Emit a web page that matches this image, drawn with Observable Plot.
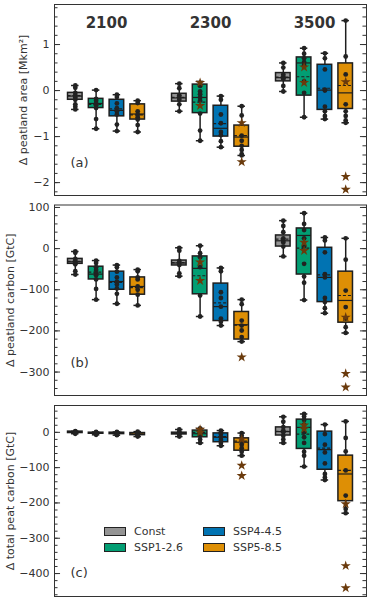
<!DOCTYPE html>
<html><head><meta charset="utf-8">
<script src="https://cdn.jsdelivr.net/npm/d3@7"></script>
<script src="https://cdn.jsdelivr.net/npm/@observablehq/plot@0.6"></script>
<style>
body{margin:0;background:#fff;font-family:"DejaVu Sans",sans-serif;}
#wrap{position:relative;width:370px;height:600px;overflow:hidden;}
#wrap svg{display:block;}
.lg{position:absolute;display:flex;align-items:center;font-size:11px;color:#333;white-space:nowrap;}
.lg span.sw{display:inline-block;width:20px;height:7px;border:1.3px solid #222;margin-right:8px;}
</style></head><body><div id="wrap"></div>
<script>
const years = ["2100", "2300", "3500"];
const scenarios = ["Const", "SSP1-2.6", "SSP4-4.5", "SSP5-8.5"];
const colors = ["#949494", "#029e73", "#0173b2", "#de8f05"];

// order: 2100 (Const, SSP1, SSP4, SSP5), 2300 (...), 3500 (...)
// (a) peatland area [Mkm2]
const areaQ1 = [-0.2, -0.38, -0.56, -0.63, -0.24, -0.49, -1.0, -1.22, 0.2, -0.11, -0.42, -0.4];
const areaQ3 = [-0.05, -0.18, -0.2, -0.3, -0.07, 0.13, -0.33, -0.76, 0.38, 0.72, 0.56, 0.59];
const areaMed = [-0.12, -0.28, -0.43, -0.51, -0.16, -0.15, -0.82, -1.01, 0.28, 0.6, 0.01, -0.05];
const areaMean = [-0.11, -0.3, -0.4, -0.53, -0.15, -0.25, -0.72, -0.98, 0.29, 0.3, 0.05, 0.11];
const areaLo = [-0.41, -0.83, -0.88, -0.9, -0.45, -1.09, -1.23, -1.41, -0.02, -0.58, -0.62, -0.7];
const areaHi = [0.11, 0.01, -0.09, -0.22, 0.15, 0.2, -0.12, -0.34, 0.6, 0.92, 0.81, 1.52];
const areaDots = [
  [0.11, 0.06, -0.05, -0.1, -0.15, -0.2, -0.3, -0.35, -0.41],
  [0.01, -0.18, -0.22, -0.28, -0.32, -0.38, -0.62, -0.83],
  [-0.09, -0.14, -0.28, -0.38, -0.45, -0.52, -0.74, -0.88],
  [-0.22, -0.27, -0.45, -0.52, -0.58, -0.63, -0.75, -0.9],
  [0.15, 0.05, -0.1, -0.15, -0.2, -0.3, -0.45],
  [0.1, -0.02, -0.08, -0.15, -0.22, -0.5, -0.87, -1.09],
  [-0.12, -0.2, -0.52, -0.71, -0.9, -0.97, -1.1, -1.23],
  [-0.34, -0.54, -0.98, -1.09, -1.2, -1.29, -1.38, -1.41],
  [0.6, 0.5, 0.35, 0.3, 0.27, 0.25, 0.1, -0.02],
  [0.92, 0.8, 0.7, 0.62, 0.55, 0.2, -0.05, -0.58],
  [0.81, 0.7, 0.46, 0.02, 0.0, -0.35, -0.45, -0.55, -0.62],
  [1.52, 0.74, 0.35, -0.3, -0.45, -0.55, -0.65, -0.7]
];
const areaStars = [[], [], [], [], [], [0.17, -0.33], [], [-0.7, -1.55], [], [0.51, 0.17], [], [0.19, -1.87, -2.15]];

// (b) peatland carbon [GtC]
const carbQ1 = [-37, -75, -100, -112, -41, -111, -176, -221, 5, -63, -130, -180];
const carbQ3 = [-25, -44, -56, -70, -29, -19, -85, -154, 32, 49, 2, -56];
const carbMed = [-32, -62, -80, -92, -35, -48, -141, -185, 19, 32, -70, -126];
const carbMean = [-31, -57, -82, -95, -34, -66, -132, -186, 23, 1, -64, -114];
const carbLo = [-63, -124, -134, -138, -67, -165, -187, -226, -19, -125, -157, -205];
const carbHi = [-7, -29, -40, -51, 2, 7, -47, -124, 68, 86, 27, 25];
const carbDots = [
  [-7, -10, -25, -30, -33, -38, -55, -63],
  [-29, -35, -45, -52, -60, -65, -75, -98, -124],
  [-40, -45, -56, -70, -80, -87, -97, -110, -134],
  [-51, -55, -70, -75, -92, -100, -112, -138],
  [2, -5, -30, -35, -40, -60, -67],
  [7, -11, -21, -45, -114, -165],
  [-47, -55, -106, -120, -141, -170, -178, -187],
  [-124, -135, -175, -187, -199, -215, -226],
  [68, 55, 40, 25, 20, 15, 5, -19],
  [86, 60, 45, 25, 5, -37, -68, -83, -125],
  [27, 20, -9, -62, -70, -120, -130, -145, -157],
  [25, -27, -102, -142, -170, -191, -205]
];
const carbStars = [[], [], [], [], [], [-33, -78], [], [-264], [], [15, -5], [], [-167, -304, -337]];

// (c) total peat carbon [GtC]
const totQ1 = [-2, -4, -5, -8, -6, -14, -28, -52, -9, -47, -106, -195];
const totQ3 = [2, -1, -1, -2, -1, 5, -3, -17, 14, 36, 2, -66];
const totMed = [0, -2, -3, -5, -3, -4, -14, -28, 2, 14, -49, -118];
const totMean = [0, -2, -3, -5, -3, 0, -12, -25, 3, -5, -45, -108];
const totLo = [-4, -7, -8, -12, -12, -30, -38, -66, -30, -97, -135, -229];
const totHi = [3, 1, 1, 2, 8, 11, 5, -2, 44, 52, 22, 31];
const totDots = [
  [3, 1, 0, -1, -2, -4],
  [1, -1, -2, -3, -5, -7],
  [1, -1, -3, -4, -6, -8],
  [2, -2, -4, -6, -9, -12],
  [8, 2, -2, -4, -7, -12],
  [11, 2, -4, -10, -20, -30],
  [5, 0, -5, -14, -22, -30, -38],
  [-2, -10, -28, -35, -45, -55, -66],
  [44, 30, 15, 5, 0, -10, -20, -30],
  [52, 45, 35, 22, 0, -14, -30, -55, -66, -97],
  [22, -5, -35, -57, -88, -118, -128, -135],
  [31, -16, -54, -108, -179, -217, -229]
];
const totStars = [[], [], [], [], [], [8, 0], [], [-20, -94, -123], [], [10, 20], [], [-203, -378, -441]];

const wrap = document.getElementById("wrap");

function panel(o) {
  const rows = o.q1.map((_, k) => ({
    pos: Math.floor(k / 4) * 5 + (k % 4),
    color: colors[k % 4],
    q1: o.q1[k], q3: o.q3[k], med: o.med[k], mean: o.mean[k], lo: o.lo[k], hi: o.hi[k]
  }));
  const dots = rows.flatMap((r, k) => o.dots[k].map(v => ({pos: r.pos, v})));
  const stars = rows.flatMap((r, k) => o.stars[k].map(v => ({pos: r.pos, v})));
  const hw = 0.35, cw = 0.18, maj = 0.29, mnr = 0.17;
  const x0 = -1, x1 = 14;
  const marks = [
    Plot.axisY({ticks: o.major, tickSize: 0, tickPadding: 5, tickFormat: d3.format("d"),
      label: null, fontSize: 11, fill: "#333"}),
    Plot.text([o.label], {frameAnchor: "left", dx: o.labelDx, rotate: -90, text: d => d,
      textAnchor: "middle", lineAnchor: "middle", fontSize: 11, fill: "#333"}),
    Plot.ruleY(o.minor, {x1: x0, x2: x0 + mnr, stroke: "#333"}),
    Plot.ruleY(o.major, {x1: x0, x2: x0 + maj, stroke: "#333"}),
    Plot.ruleY(o.minor, {x1: x1 - mnr, x2: x1, stroke: "#333"}),
    Plot.ruleY(o.major, {x1: x1 - maj, x2: x1, stroke: "#333"}),
    Plot.ruleX(rows, {x: "pos", y1: "lo", y2: "hi", stroke: "#1e1e1e", strokeWidth: 1.5}),
    Plot.ruleY(rows, {y: "lo", x1: d => d.pos - cw, x2: d => d.pos + cw, stroke: "#1e1e1e", strokeWidth: 1.5}),
    Plot.ruleY(rows, {y: "hi", x1: d => d.pos - cw, x2: d => d.pos + cw, stroke: "#1e1e1e", strokeWidth: 1.5}),
    Plot.rect(rows, {x1: d => d.pos - hw, x2: d => d.pos + hw, y1: "q1", y2: "q3", fill: "color", stroke: "#1e1e1e", strokeWidth: 1.5}),
    Plot.ruleY(rows, {y: "med", x1: d => d.pos - hw, x2: d => d.pos + hw, stroke: "#1e1e1e", strokeWidth: 1.2}),
    Plot.ruleY(rows, {y: "mean", x1: d => d.pos - hw, x2: d => d.pos + hw, stroke: "#1e1e1e", strokeWidth: 1.2, strokeDasharray: "3,2"}),
    Plot.dot(dots, {x: "pos", y: "v", r: 2.4, fill: "#222", stroke: "none"}),
    Plot.dot(stars, {x: "pos", y: "v", r: 3.2, symbol: "star", fill: "#6a3a0c", stroke: "none"}),
    Plot.frame({stroke: "#333", strokeWidth: 1}),
    Plot.text([o.tag], {frameAnchor: "bottom-left", dx: 16, dy: o.tagDy, text: d => d,
      textAnchor: "start", lineAnchor: "middle", fontSize: 13, fill: "#333"})
  ];
  if (o.titles) {
    marks.push(Plot.text(years, {x: (d, i) => i * 5 + 1.5, frameAnchor: "top", dy: 19, text: d => d,
      lineAnchor: "middle", fontWeight: "bold", fontSize: 15, fill: "#333"}));
  }
  const chart = Plot.plot({
    width: 370, height: o.height, marginLeft: 54, marginRight: 4,
    marginTop: o.mt, marginBottom: o.mb,
    style: {fontFamily: "DejaVu Sans", fontSize: "11px", color: "#333", background: "#fff", overflow: "visible"},
    x: {domain: [x0, x1], axis: null},
    y: {domain: o.domain},
    marks
  });
  wrap.appendChild(chart);
}

const stepTicks = (a, b, s) => d3.range(Math.round(a / s), Math.round(b / s) + 1).map(i => +(i * s).toFixed(6));

panel({height: 199, mt: 4, mb: 4, domain: [-2.28, 1.87], major: [-2, -1, 0, 1], minor: stepTicks(-2.2, 1.8, 0.2),
  label: "Δ peatland area [Mkm²]", labelDx: -31.5, tag: "(a)", tagDy: -33, titles: true,
  q1: areaQ1, q3: areaQ3, med: areaMed, mean: areaMean, lo: areaLo, hi: areaHi, dots: areaDots, stars: areaStars});
panel({height: 201, mt: 5.5, mb: 5, domain: [-357, 106], major: [-300, -200, -100, 0, 100], minor: stepTicks(-340, 100, 20),
  label: "Δ peatland carbon [GtC]", labelDx: -44.5, tag: "(b)", tagDy: -33,
  q1: carbQ1, q3: carbQ3, med: carbMed, mean: carbMean, lo: carbLo, hi: carbHi, dots: carbDots, stars: carbStars});
panel({height: 200, mt: 5, mb: 4, domain: [-465, 76], major: [-400, -300, -200, -100, 0], minor: stepTicks(-460, 60, 20),
  label: "Δ total peat carbon [GtC]", labelDx: -44.5, tag: "(c)", tagDy: -24,
  q1: totQ1, q3: totQ3, med: totMed, mean: totMean, lo: totLo, hi: totHi, dots: totDots, stars: totStars});

// legend
scenarios.forEach((s, i) => {
  const d = document.createElement("div");
  d.className = "lg";
  d.style.left = (104 + Math.floor(i / 2) * 99) + "px";
  d.style.top = (525 + (i % 2) * 15.5) + "px";
  d.innerHTML = `<span class="sw" style="background:${colors[i]}"></span>${s}`;
  wrap.appendChild(d);
});
</script>
</body></html>
